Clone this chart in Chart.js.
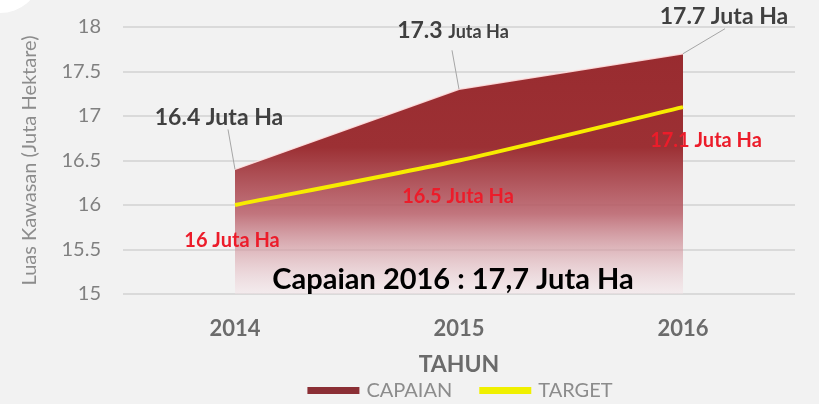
<!DOCTYPE html>
<html>
<head>
	<meta charset="utf-8">
	<script src="https://cdn.jsdelivr.net/npm/chart.js@4.4.0/dist/chart.umd.min.js"></script>
	<style>
		html,body{margin:0;padding:0;background:#f2f2f2;}
		#wrap{position:relative;width:819px;height:404px;}
	</style>
</head>
<body>
	<div id="wrap"><canvas id="luasChart" width="819" height="404"></canvas></div>
<script>
	var categories = ["2014", "2015", "2016"];
	var capaian = [16.4, 17.3, 17.7];
	var target = [16.0, 16.5, 17.1];
	var yMin = 15, yMax = 18, yStep = 0.5;
	var satuan = "Juta Ha";
	var catatan = "Capaian 2016 : 17,7 Juta Ha";

	var fontName = "Lato, 'Open Sans', sans-serif";

	// background + white blob top-left
	var bgPlugin = {
		id: "bg",
		beforeDraw: function(chart){
			var c = chart.ctx;
			c.save();
			c.fillStyle = "#f2f2f2";
			c.fillRect(0, 0, chart.width, chart.height);
			c.fillStyle = "#ffffff";
			c.beginPath();
			c.ellipse(0, -20, 38, 33, 0, 0, Math.PI*2);
			c.fill();
			c.restore();
		}
	};

	// value labels, leader lines, note, legend
	var labelPlugin = {
		id: "labels",
		afterDatasetsDraw: function(chart){
			var c = chart.ctx;
			var xs = chart.scales.x, ys = chart.scales.y;
			var off = [
				{dx:-16, dy:-52, lx:-7, ly:-40, small:23},
				{dx:-6, dy:-59, lx:-7, ly:-39, small:18},
				{dx:41, dy:-38, lx:42, ly:-25, small:23}
			];
			c.save();
			for(var i=0;i<capaian.length;i++){
				var px = xs.getPixelForValue(i), py = ys.getPixelForValue(capaian[i]);
				var o = off[i];
				c.strokeStyle = "#a6a6a6";
				c.lineWidth = 1;
				c.beginPath();
				c.moveTo(px+o.lx, py+o.ly);
				c.lineTo(px, py);
				c.stroke();
				var num = String(capaian[i]);
				c.font = "bold 23px " + fontName;
				var w1 = c.measureText(num + " ").width;
				c.font = "bold " + o.small + "px " + fontName;
				var w2 = c.measureText(satuan).width;
				var sx = px + o.dx - (w1+w2)/2;
				c.fillStyle = "#404040";
				c.textBaseline = "alphabetic";
				c.textAlign = "left";
				c.font = "bold 23px " + fontName;
				c.fillText(num, sx, py+o.dy+8);
				c.font = "bold " + o.small + "px " + fontName;
				c.fillText(satuan, sx+w1, py+o.dy+8);
			}
			var toff = [{dx:-3, dy:36}, {dx:-1, dy:36}, {dx:23, dy:33}];
			c.font = "bold 20px " + fontName;
			c.fillStyle = "#ec1c2a";
			c.textAlign = "center";
			c.textBaseline = "middle";
			for(var j=0;j<target.length;j++){
				var tx = xs.getPixelForValue(j), ty = ys.getPixelForValue(target[j]);
				c.fillText(String(target[j]) + " " + satuan, tx+toff[j].dx, ty+toff[j].dy);
			}
			c.font = "bold 29px " + fontName;
			c.fillStyle = "#000000";
			c.fillText(catatan, xs.getPixelForValue(1)-6, chart.chartArea.bottom-14);

			// legend
			var ds = chart.data.datasets;
			var items = [{text: ds[0].label, color: "#8b2f35"}, {text: ds[1].label, color: "#f0f000"}];
			c.font = "20px " + fontName;
			var total = 0;
			for(var k=0;k<items.length;k++){
				items[k].w = c.measureText(items[k].text).width;
				total += 52 + 7 + items[k].w;
			}
			total += 27;
			var lx = (chart.chartArea.left + chart.chartArea.right)/2 - total/2 + 1;
			var ly = 390;
			c.textAlign = "left";
			for(var m=0;m<items.length;m++){
				c.fillStyle = items[m].color;
				c.fillRect(lx, ly-3, 52, 7);
				c.fillStyle = "#8c8c8c";
				c.fillText(items[m].text, lx+59, ly+1);
				lx += 52 + 7 + items[m].w + 27;
			}
			c.restore();
		}
	};

	var ctx = document.getElementById("luasChart").getContext("2d");
	var luasChart = new Chart(ctx, {
		type: "line",
		data: {
			labels: categories,
			datasets: [{
				label: "CAPAIAN",
				data: capaian,
				order: 1,
				fill: "start",
				tension: 0,
				borderColor: "rgba(255,225,225,0.9)",
				borderWidth: 1.5,
				pointRadius: 0,
				backgroundColor: function(context){
					var ca = context.chart.chartArea;
					if(!ca){ return "#9a2c30"; }
					var g = context.chart.ctx.createLinearGradient(0, ca.top, 0, ca.bottom);
					g.addColorStop(0, "#982a2e");
					g.addColorStop(0.45, "#9c3034");
					g.addColorStop(0.7, "rgba(185,95,105,0.85)");
					g.addColorStop(1, "rgba(245,225,230,0.4)");
					return g;
				}
			},{
				label: "TARGET",
				data: target,
				order: 0,
				fill: false,
				tension: 0.25,
				borderColor: "#f7ec00",
				borderWidth: 4,
				pointRadius: 0
			}]
		},
		options: {
			responsive: false,
			animation: false,
			layout: {padding: {top: 27, right: 24, left: 0, bottom: 26}},
			plugins: {
				tooltip: {enabled: false},
				legend: {display: false}
			},
			scales: {
				x: {
					offset: true,
					grid: {display: false, drawTicks: false},
					border: {display: false},
					ticks: {color: "#6b6b6b", padding: 22, font: {family: fontName, size: 22, weight: "bold"}},
					title: {display: true, text: "TAHUN", color: "#6b6b6b", padding: {top: 4, bottom: 0}, font: {family: fontName, size: 23, weight: "bold"}},
					afterFit: function(scale){ scale.height = 84; }
				},
				y: {
					min: yMin,
					max: yMax,
					grid: {color: "#dadada", lineWidth: 2, drawTicks: false},
					border: {display: false},
					ticks: {stepSize: yStep, color: "#808080", padding: 22, font: {family: fontName, size: 20},
						callback: function(v){ return String(v); }},
					title: {display: true, text: "Luas Kawasan (Juta Hektare)", color: "#8c8c8c", padding: {top: 18, bottom: 0}, font: {family: fontName, size: 20}},
					afterFit: function(scale){ scale.width = 123; scale.paddingTop = 0; scale.paddingBottom = 0; }
				}
			}
		},
		plugins: [bgPlugin, labelPlugin]
	});
</script>
</body>
</html>
